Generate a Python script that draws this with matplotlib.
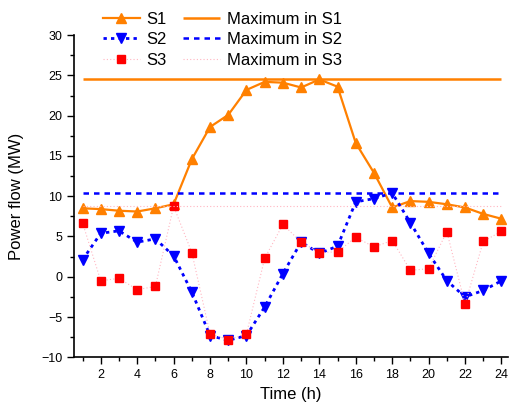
import matplotlib
matplotlib.use('Agg')
import matplotlib.pyplot as plt
import numpy as np
from matplotlib.ticker import MultipleLocator

plt.rcParams['font.family'] = ['Liberation Sans', 'DejaVu Sans']

hours = np.arange(1, 25)
s1 = [8.5, 8.4, 8.2, 8.1, 8.5, 9.0, 14.6, 18.6, 20.1, 23.2, 24.2, 24.1,
      23.5, 24.5, 23.6, 16.6, 12.9, 8.6, 9.4, 9.3, 9.0, 8.6, 7.8, 7.2]
s2 = [2.1, 5.4, 5.7, 4.3, 4.7, 2.6, -1.9, -7.3, -7.9, -7.3, -3.75, 0.4,
      4.3, 2.9, 3.8, 9.3, 9.7, 10.4, 6.7, 2.9, -0.5, -2.5, -1.7, -0.5]
s3 = [6.7, -0.5, -0.2, -1.6, -1.2, 8.76, 3.0, -7.1, -7.8, -7.1, 2.3, 6.5,
      4.3, 3.0, 3.1, 4.9, 3.7, 4.5, 0.8, 1.0, 5.6, -3.4, 4.4, 5.65]

orange = '#FF8000'
blue = '#0000FF'
red = '#FF0000'
pink = '#FFB6C1'

fig = plt.figure(figsize=(5.13, 4.04), dpi=100)
ax = fig.add_axes([0.1442, 0.1156, 0.8458, 0.7974])

ax.plot(hours, s1, color=orange, lw=1.6, marker='^', ms=7, label='S1')
ax.plot(hours, s2, color=blue, lw=2, ls=(0, (1.2, 1.5)), marker='v', ms=7, label='S2')
ax.plot(hours, s3, color=pink, lw=0.8, ls=(0, (1, 2)), marker='s', ms=5.5,
        mfc=red, mec=red, label='S3')

ax.hlines(max(s1), hours[0], hours[-1], color=orange, lw=1.8, label='Maximum in S1')
ax.hlines(max(s2), hours[0], hours[-1], color=blue, lw=1.8, ls=(0, (2.2, 2)), label='Maximum in S2')
ax.hlines(max(s3), hours[0], hours[-1], color=pink, lw=0.8, ls=(0, (1, 2)), label='Maximum in S3')

ax.set_xlim(0.53, 24.35)
ax.set_ylim(-10, 30)
ax.xaxis.set_major_locator(MultipleLocator(2))
ax.xaxis.set_minor_locator(MultipleLocator(1))
ax.yaxis.set_major_locator(MultipleLocator(5))
ax.yaxis.set_minor_locator(MultipleLocator(2.5))
ax.set_xticks(np.arange(2, 25, 2))
ax.tick_params(which='major', direction='out', length=5, width=1, labelsize=9)
ax.tick_params(which='minor', direction='out', length=3, width=1)
for side in ['top', 'right']:
    ax.spines[side].set_visible(False)
for side in ['left', 'bottom']:
    ax.spines[side].set_linewidth(1.2)

ax.set_xlabel('Time (h)', fontsize=12, labelpad=4)
ax.set_ylabel('Power flow (MW)', fontsize=12, labelpad=12)

fig.legend(loc='upper left', bbox_to_anchor=(103 / 513, 1 - 12 / 404), ncol=2,
           frameon=False, fontsize=12, labelspacing=0.32, handlelength=2.2,
           handletextpad=0.4, columnspacing=1.0, borderpad=0, borderaxespad=0)

fig.savefig('out.png', dpi=100)
